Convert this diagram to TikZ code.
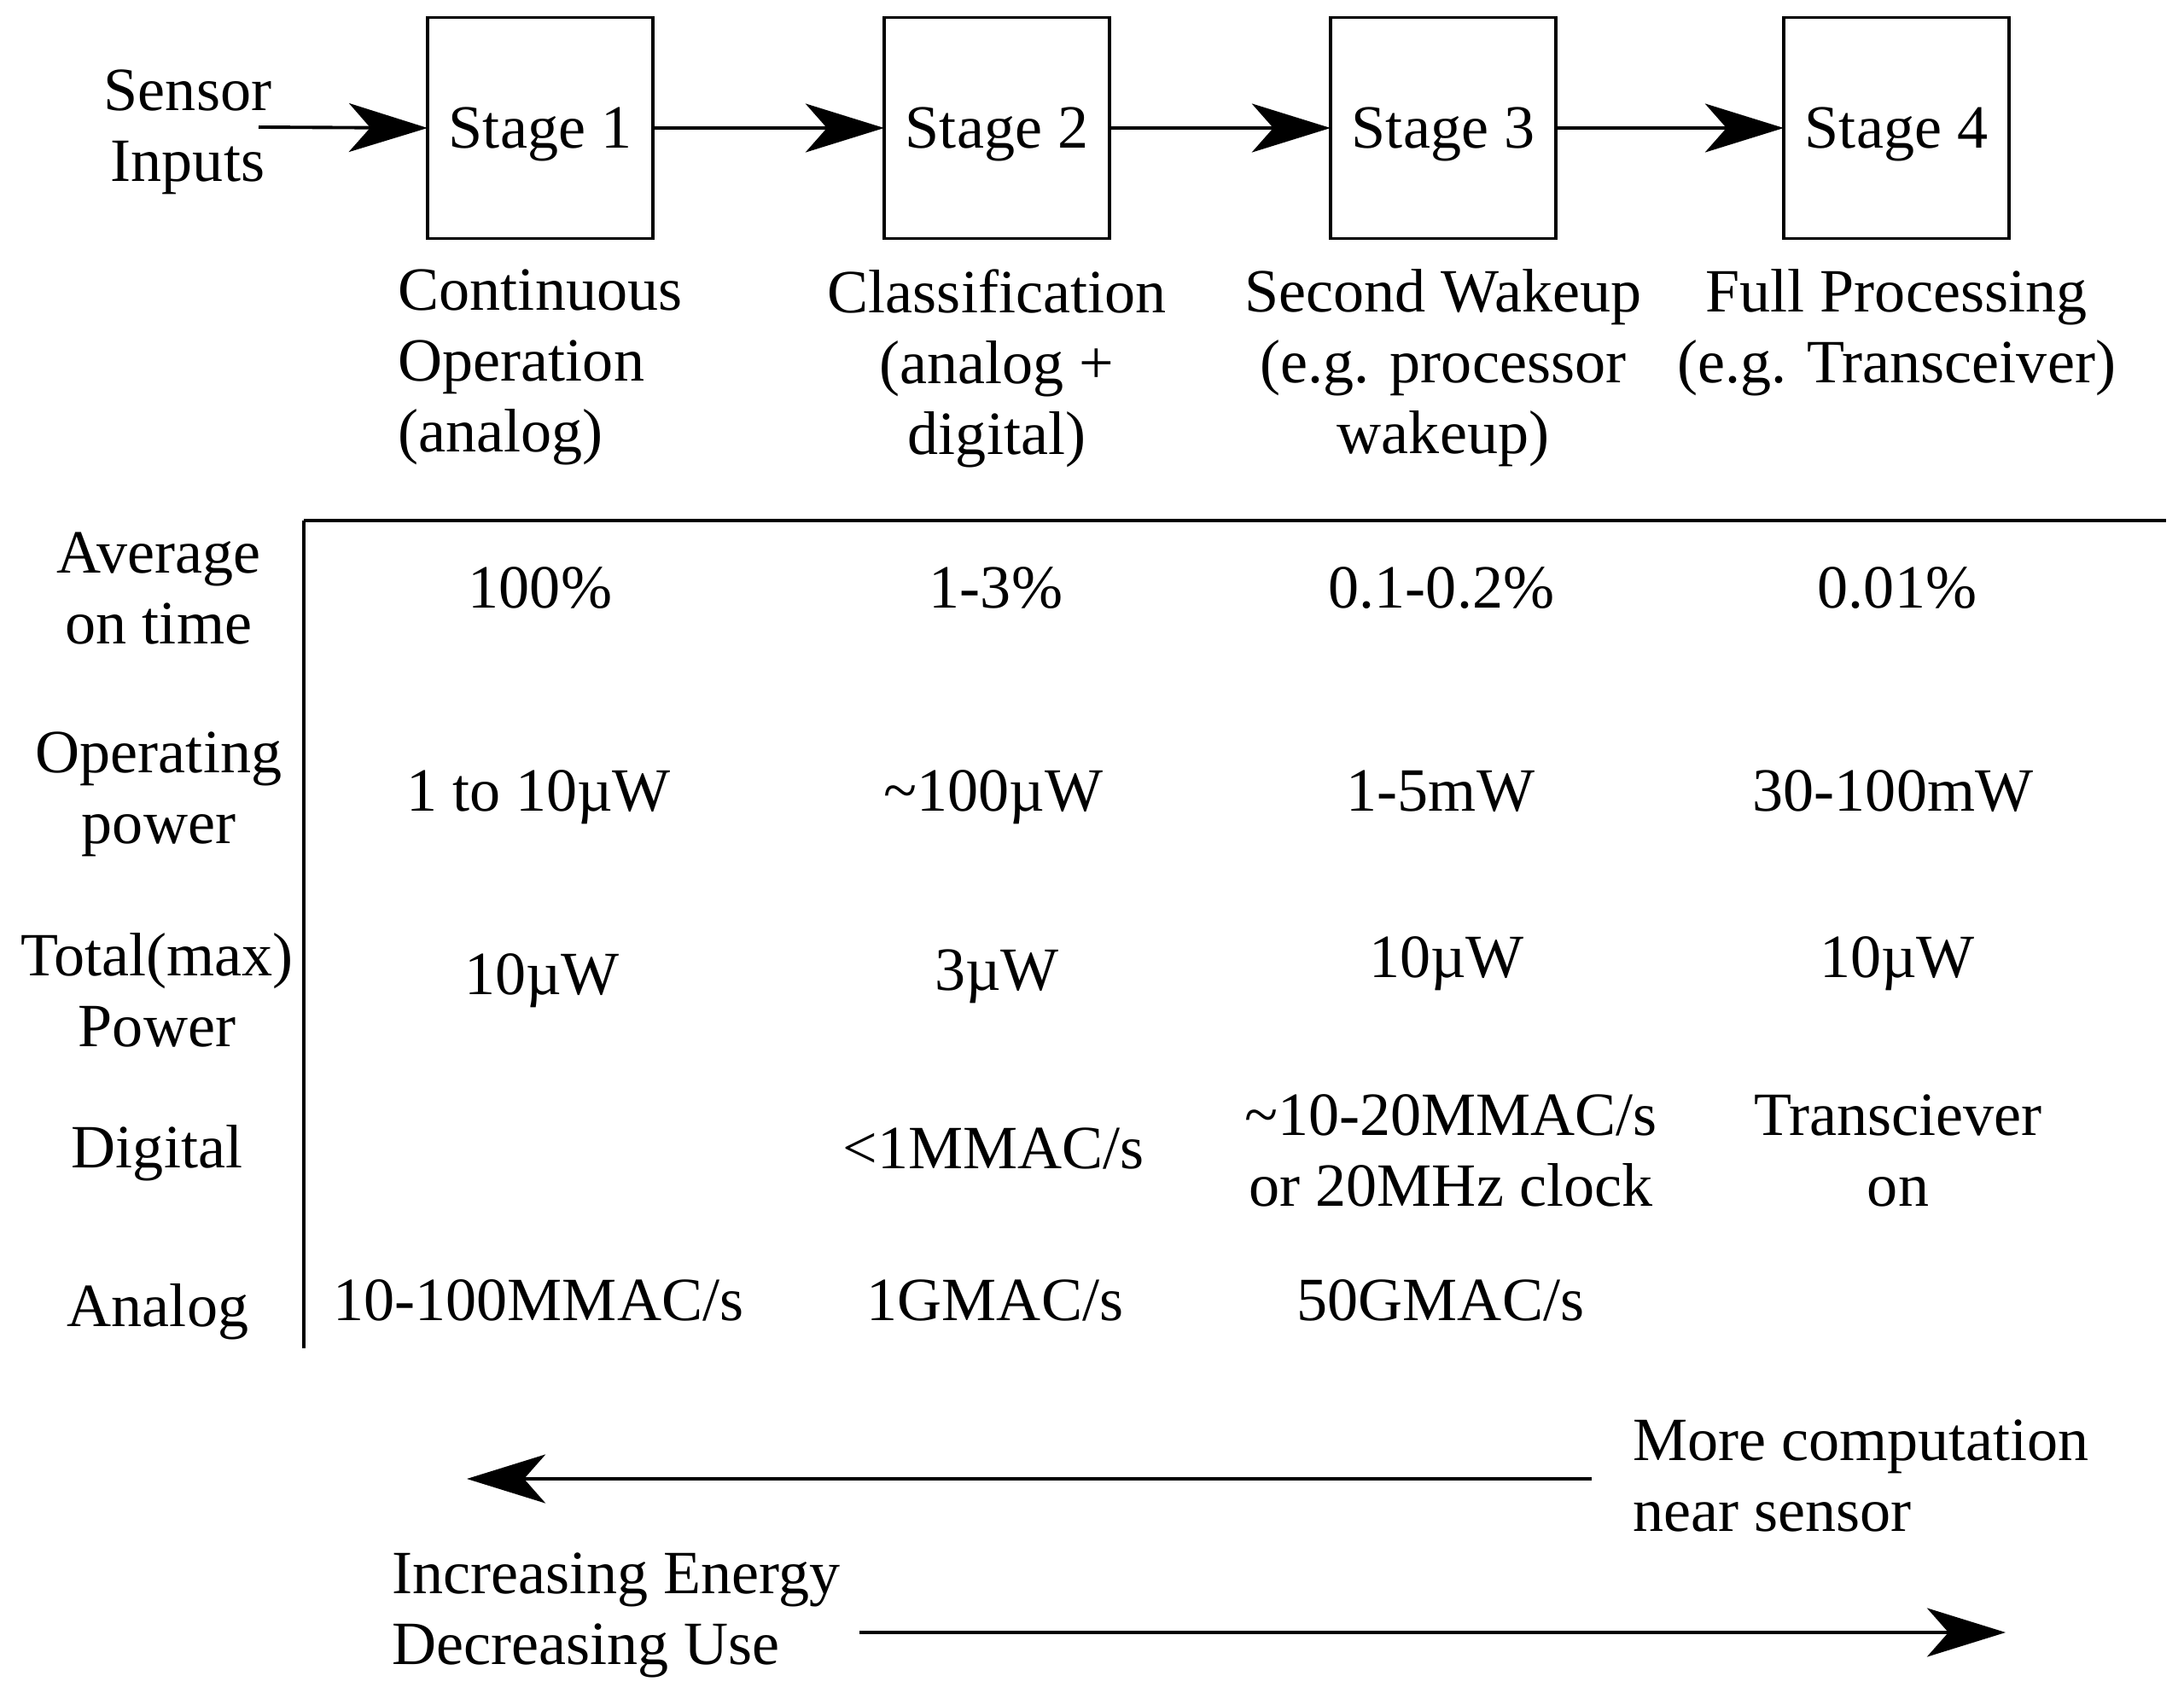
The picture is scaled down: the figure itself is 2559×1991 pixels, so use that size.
\documentclass[tikz,border=0pt]{standalone}
\usepackage{fontspec}
\setmainfont{Liberation Serif}
\usetikzlibrary{arrows.meta}
\usetikzlibrary{positioning}
\tikzstyle{base}=[x=0.01cm, y=-0.01cm, inner sep=0pt, outer sep=0pt]
\tikzstyle{stagebox}=[draw, line width=0.95pt, minimum width=2.64cm, minimum height=2.59cm, text depth=0pt]
\tikzstyle{flow}=[line width=1.1pt, -{Stealth[length=0.92cm, width=0.57cm, inset=0.25cm]}]
\tikzstyle{rule}=[line width=1.1pt]

\begin{document}
\begin{tikzpicture}[base]
    \fontsize{20.5pt}{23.6pt}\selectfont
    \useasboundingbox (0,0) rectangle (2559,1991);
    % stages
    \node [align=center] (sensor) at (220,155) {Sensor\\Inputs};
    \coordinate (in) at (303,149);
    \node [stagebox] (stage1) at (633,150) {Stage 1};
    \node [stagebox] (stage2) at (1168,150) {Stage 2};
    \node [stagebox] (stage3) at (1691,150) {Stage 3};
    \node [stagebox] (stage4) at (2222,150) {Stage 4};
    \draw [flow] (in) -- (stage1.west);
    \draw [flow] (stage1.east) -- (stage2.west);
    \draw [flow] (stage2.east) -- (stage3.west);
    \draw [flow] (stage3.east) -- (stage4.west);
    \node [align=left, below=0.36cm of stage1] (desc1) {Continuous\\Operation\\(analog)};
    \node [align=center, below=0.36cm of stage2] (desc2) {Classification\\(analog +\\digital)};
    \node [align=center, below=0.36cm of stage3] (desc3) {Second Wakeup\\(e.g. processor\\wakeup)};
    \node [align=center, below=0.36cm of stage4] (desc4) {Full Processing\\(e.g. Transceiver)};
    % table
    \draw [rule] (356,610) -- (2538,610);
    \draw [rule] (356,610) -- (356,1580);
    \node [align=center] (avg) at (186,690) {Average\\on time};
    \node [align=center] (oppow) at (186,931) {Operating\\power};
    \node [align=center] (totpow) at (184,1160) {Total(max)\\Power};
    \node (digital) at (184,1351) {Digital};
    \node (analog) at (185,1537) {Analog};
    \node (on1) at (633,689) {100\%};
    \node (on2) at (1167,689) {1-3\%};
    \node (on3) at (1689,689) {0.1-0.2\%};
    \node (on4) at (2223,689) {0.01\%};
    \node (op1) at (631,934) {1 to 10µW};
    \node (op2) at (1164,934) {\textasciitilde100µW};
    \node (op3) at (1688,927) {1-5mW};
    \node (op4) at (2218,927) {30-100mW};
    \node (tot1) at (635,1149) {10µW};
    \node (tot2) at (1168,1144) {3µW};
    \node (tot3) at (1695,1129) {10µW};
    \node (tot4) at (2223,1129) {10µW};
    \node (dig2) at (1164,1346) {<1MMAC/s};
    \node [align=center] (dig3) at (1700,1348) {\textasciitilde10-20MMAC/s\\or 20MHz clock};
    \node [align=center] (dig4) at (2224,1348) {Transciever\\on};
    \node (ana1) at (631,1524) {10-100MMAC/s};
    \node (ana2) at (1166,1524) {1GMAC/s};
    \node (ana3) at (1688,1524) {50GMAC/s};
    % trends
    \node [align=left, anchor=west] (more) at (1913,1729) {More computation\\near sensor};
    \coordinate (lstart) at (1865,1733);
    \coordinate (lend) at (547,1733);
    \draw [flow] (lstart) -- (lend);
    \node [align=left, anchor=west] (energy) at (459,1893) {Increasing Energy\\Decreasing Use};
    \coordinate (rstart) at (1007,1913);
    \coordinate (rend) at (2350,1913);
    \draw [flow] (rstart) -- (rend);
\end{tikzpicture}
\end{document}
